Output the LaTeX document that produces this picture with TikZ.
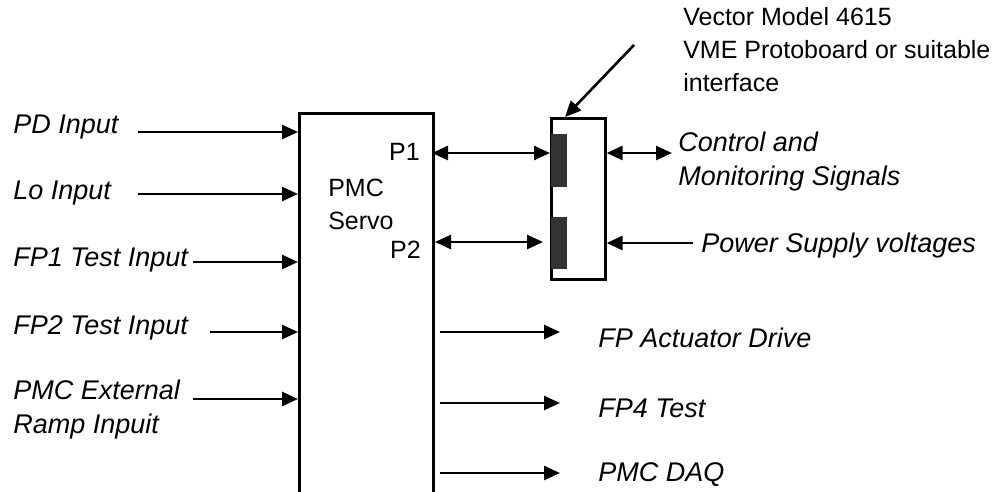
\documentclass[tikz,border=0pt]{standalone}
\usepackage{fontspec}
\setmainfont{Liberation Sans}
\usetikzlibrary{arrows.meta, positioning}

\begin{document}
\begin{tikzpicture}[x=1pt, y=-1pt, line width=2.6pt,
  sig/.style={-{Triangle[length=16pt, width=14pt]}},
  sigtwo/.style={{Triangle[length=16pt, width=14pt]}-{Triangle[length=16pt, width=14pt]}},
  lab/.style={font=\fontsize{27}{34}\selectfont\itshape, anchor=west, inner sep=0pt, align=left},
  txt/.style={font=\fontsize{25}{33}\selectfont, inner sep=0pt, align=left},
  plug/.style={fill=black!80, inner sep=0pt, minimum width=16pt, anchor=north west}]
  \clip (0,0) rectangle (995,492);
  % main board, runs off the bottom of the page
  \node[draw, minimum width=134pt, minimum height=430pt, anchor=north west, inner sep=0pt] (servo) at (298,112) {};
  \node[txt, anchor=west] (servotxt) at (327,204) {PMC\\Servo};
  \node[txt, anchor=east] (pone) at (421,152) {P1};
  \node[txt, anchor=east] (ptwo) at (422,250) {P2};
  % interface board with its two connectors
  \node[draw, minimum width=54pt, minimum height=161pt, anchor=north west, inner sep=0pt] (iface) at (550,117) {};
  \node[plug, minimum height=53pt] (plugone) at (550,133) {};
  \node[plug, minimum height=52pt] (plugtwo) at (550,216) {};
  \node[txt, anchor=west] (vector) at (682,50) {Vector Model 4615\\VME Protoboard or suitable\\interface};
  \coordinate (vecfoot) at (634,45);
  \draw[sig] (vecfoot) -- ([xshift=15pt]iface.north west);
  % inputs
  \node[lab] (pd) at (12,127) {PD Input};
  \node[lab] (lo) at (12,193) {Lo Input};
  \node[lab] (fpone) at (12,260) {FP1 Test Input};
  \node[lab] (fptwo) at (12,328) {FP2 Test Input};
  \node[lab] (ramp) at (12,410) {PMC External\\Ramp Inpuit};
  \coordinate (pdin) at (138,132);
  \coordinate (loin) at (138,194);
  \coordinate (fponein) at (193,262);
  \coordinate (fptwoin) at (210,332);
  \coordinate (rampin) at (193,399);
  \foreach \c in {pdin, loin, fponein, fptwoin, rampin}
    \draw[sig] (\c) -- (servo.west |- \c);
  % P1 and P2 to the interface
  \coordinate (pbusone) at (432,153);
  \coordinate (pbustwo) at (435,242);
  \draw[sigtwo] (pbusone) -- (plugone.west |- pbusone);
  \draw[sigtwo] (pbustwo) -- ([xshift=-7pt]plugtwo.west |- pbustwo);
  % interface to the outside
  \node[lab] (ctrl) at (677,162) {Control and\\Monitoring Signals};
  \node[lab] (power) at (700,246) {Power Supply voltages};
  \coordinate (ctrlend) at (672,153);
  \coordinate (powerin) at (693,243);
  \draw[sigtwo] (iface.east |- ctrlend) -- (ctrlend);
  \draw[sig] (powerin) -- (iface.east |- powerin);
  % outputs
  \node[lab] (act) at (597,338) {FP Actuator Drive};
  \node[lab] (fpfour) at (597,408) {FP4 Test};
  \node[lab] (daq) at (597,475) {PMC DAQ};
  \coordinate (actout) at (560,332);
  \coordinate (fpfourout) at (560,403);
  \coordinate (daqout) at (560,473);
  \foreach \c in {actout, fpfourout, daqout}
    \draw[sig] ([xshift=5pt]servo.east |- \c) -- (\c);
\end{tikzpicture}
\end{document}
